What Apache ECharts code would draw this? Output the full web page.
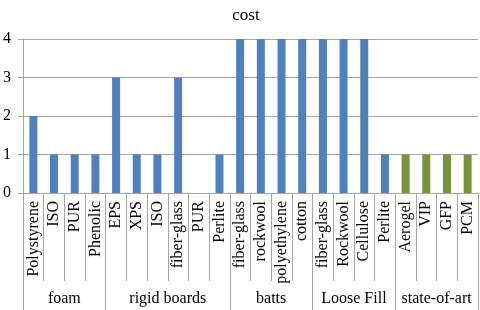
<!DOCTYPE html>
<html>
<head>
<meta charset="utf-8">
<script src="https://cdn.jsdelivr.net/npm/echarts@6/dist/echarts.min.js"></script>
<style>
  html, body { margin: 0; padding: 0; background: #fff; }
  #chart { width: 480px; height: 310px; }
</style>
</head>
<body>
<div id="chart"></div>
<script>
// materials on the x axis, grouped by type
const materials = ['Polystyrene', 'ISO', 'PUR', 'Phenolic',
  'EPS', 'XPS', 'ISO', 'fiber-glass', 'PUR', 'Perlite',
  'fiber-glass', 'rockwool', 'polyethylene', 'cotton',
  'fiber-glass', 'Rockwool', 'Cellulose', 'Perlite',
  'Aerogel', 'VIP', 'GFP', 'PCM'];
const cost = [2, 1, 1, 1,
  3, 1, 1, 3, 0, 1,
  4, 4, 4, 4,
  4, 4, 4, 1,
  1, 1, 1, 1];
const groups = ['foam', 'rigid boards', 'batts', 'Loose Fill', 'state-of-art'];
const groupSizes = [4, 6, 4, 4, 4];
const yTicks = [0, 1, 2, 3, 4];

// boundaries & centres of the groups, in category units
const groupEdges = [0];
groupSizes.forEach(n => groupEdges.push(groupEdges[groupEdges.length - 1] + n));
const groupCenters = groups.map((g, i) => (groupEdges[i] + groupEdges[i + 1]) / 2);

const blue = '#4f81bd';
const green = '#77933c';
const lineCol = '#a6a6a6';
const font = '"Liberation Serif", "DejaVu Serif", serif';

const barData = cost.map((v, i) => ({
  value: v,
  itemStyle: { color: i >= groupEdges[4] ? green : blue }
}));

const myChart = echarts.init(document.getElementById('chart'));
myChart.setOption({
  animation: false,
  title: {
    text: 'cost',
    left: 241,
    top: 2,
    textAlign: 'center',
    textStyle: { fontFamily: font, fontSize: 17, fontWeight: 'normal', color: '#000' }
  },
  grid: { left: 19, right: 2, top: 39, bottom: 117 },
  xAxis: [
    {
      type: 'category',
      data: materials,
      axisLine: { lineStyle: { color: lineCol } },
      axisTick: { show: true, interval: 0, length: 88, lineStyle: { color: lineCol } },
      axisLabel: {
        interval: 0,
        rotate: 90,
        margin: 8,
        fontFamily: font,
        fontSize: 16,
        color: '#000'
      }
    },
    {
      type: 'value',
      position: 'bottom',
      min: 0,
      max: materials.length,
      axisLine: { show: false },
      splitLine: { show: false },
      axisTick: {
        show: true,
        customValues: groupEdges,
        length: 117,
        lineStyle: { color: lineCol }
      },
      axisLabel: {
        customValues: groupCenters,
        margin: 98,
        fontFamily: font,
        fontSize: 16,
        color: '#000',
        formatter: v => groups[groupCenters.indexOf(v)] || ''
      }
    }
  ],
  yAxis: {
    type: 'value',
    min: yTicks[0],
    max: yTicks[yTicks.length - 1],
    interval: 1,
    axisLine: { show: true, lineStyle: { color: lineCol } },
    axisTick: { show: true, length: 5, lineStyle: { color: lineCol } },
    splitLine: { lineStyle: { color: lineCol } },
    axisLabel: { margin: 12, fontFamily: font, fontSize: 16, color: '#000' }
  },
  series: [
    {
      type: 'bar',
      xAxisIndex: 0,
      data: barData,
      barWidth: 8
    }
  ]
});
</script>
</body>
</html>
